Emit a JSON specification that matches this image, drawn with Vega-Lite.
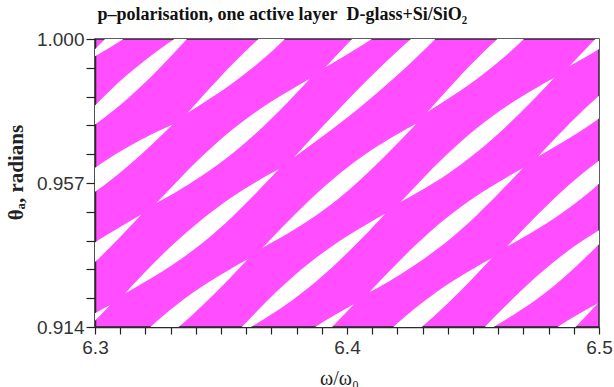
{
  "$schema": "https://vega.github.io/schema/vega-lite/v6.json",
  "width": 504,
  "height": 288,
  "autosize": {"type": "none"},
  "padding": {"left": 95, "top": 39, "right": 15, "bottom": 60},
  "background": "white",
  "view": {"fill": "#ff4dff", "stroke": "#2a2a2a", "strokeWidth": 1.5},
  "config": {"font": "Liberation Sans"},
  "data": {"values": [
    {"lens":1,"omega":6.2946,"lo":0.9926,"hi":0.9926},{"lens":1,"omega":6.3019,"lo":0.9957,"hi":0.9984},{"lens":1,"omega":6.3129,"lo":1.0008,"hi":1.0066},{"lens":1,"omega":6.3251,"lo":1.0075,"hi":1.0147},{"lens":1,"omega":6.3373,"lo":1.0156,"hi":1.0215},{"lens":1,"omega":6.3483,"lo":1.0239,"hi":1.0266},{"lens":1,"omega":6.3557,"lo":1.0297,"hi":1.0297},
    {"lens":2,"omega":6.2823,"lo":0.9657,"hi":0.9657},{"lens":2,"omega":6.2896,"lo":0.9692,"hi":0.9718},{"lens":2,"omega":6.3006,"lo":0.9748,"hi":0.9806},{"lens":2,"omega":6.3128,"lo":0.9821,"hi":0.9893},{"lens":2,"omega":6.3250,"lo":0.9908,"hi":0.9966},{"lens":2,"omega":6.3360,"lo":0.9996,"hi":1.0022},{"lens":2,"omega":6.3434,"lo":1.0057,"hi":1.0057},
    {"lens":3,"omega":6.3368,"lo":0.9780,"hi":0.9780},{"lens":3,"omega":6.3441,"lo":0.9815,"hi":0.9841},{"lens":3,"omega":6.3551,"lo":0.9871,"hi":0.9929},{"lens":3,"omega":6.3673,"lo":0.9944,"hi":1.0016},{"lens":3,"omega":6.3795,"lo":1.0031,"hi":1.0089},{"lens":3,"omega":6.3905,"lo":1.0119,"hi":1.0146},{"lens":3,"omega":6.3979,"lo":1.0180,"hi":1.0180},
    {"lens":4,"omega":6.2697,"lo":0.9416,"hi":0.9416},{"lens":4,"omega":6.2770,"lo":0.9442,"hi":0.9469},{"lens":4,"omega":6.2880,"lo":0.9486,"hi":0.9544},{"lens":4,"omega":6.3003,"lo":0.9545,"hi":0.9617},{"lens":4,"omega":6.3125,"lo":0.9617,"hi":0.9675},{"lens":4,"omega":6.3235,"lo":0.9692,"hi":0.9719},{"lens":4,"omega":6.3308,"lo":0.9745,"hi":0.9745},
    {"lens":5,"omega":6.3243,"lo":0.9510,"hi":0.9510},{"lens":5,"omega":6.3317,"lo":0.9541,"hi":0.9568},{"lens":5,"omega":6.3427,"lo":0.9593,"hi":0.9651},{"lens":5,"omega":6.3549,"lo":0.9660,"hi":0.9732},{"lens":5,"omega":6.3671,"lo":0.9741,"hi":0.9799},{"lens":5,"omega":6.3781,"lo":0.9824,"hi":0.9850},{"lens":5,"omega":6.3854,"lo":0.9882,"hi":0.9882},
    {"lens":6,"omega":6.3914,"lo":0.9916,"hi":0.9916},{"lens":6,"omega":6.3987,"lo":0.9948,"hi":0.9974},{"lens":6,"omega":6.4097,"lo":0.9999,"hi":1.0057},{"lens":6,"omega":6.4220,"lo":1.0066,"hi":1.0138},{"lens":6,"omega":6.4342,"lo":1.0147,"hi":1.0205},{"lens":6,"omega":6.4452,"lo":1.0230,"hi":1.0257},{"lens":6,"omega":6.4525,"lo":1.0288,"hi":1.0288},
    {"lens":7,"omega":6.2573,"lo":0.9104,"hi":0.9104},{"lens":7,"omega":6.2646,"lo":0.9135,"hi":0.9162},{"lens":7,"omega":6.2756,"lo":0.9187,"hi":0.9245},{"lens":7,"omega":6.2878,"lo":0.9254,"hi":0.9326},{"lens":7,"omega":6.3001,"lo":0.9335,"hi":0.9393},{"lens":7,"omega":6.3111,"lo":0.9418,"hi":0.9444},{"lens":7,"omega":6.3184,"lo":0.9476,"hi":0.9476},
    {"lens":8,"omega":6.3119,"lo":0.9240,"hi":0.9240},{"lens":8,"omega":6.3192,"lo":0.9272,"hi":0.9299},{"lens":8,"omega":6.3302,"lo":0.9323,"hi":0.9381},{"lens":8,"omega":6.3425,"lo":0.9390,"hi":0.9462},{"lens":8,"omega":6.3547,"lo":0.9471,"hi":0.9530},{"lens":8,"omega":6.3657,"lo":0.9554,"hi":0.9581},{"lens":8,"omega":6.3730,"lo":0.9612,"hi":0.9612},
    {"lens":9,"omega":6.3790,"lo":0.9647,"hi":0.9647},{"lens":9,"omega":6.3890,"lo":0.9702,"hi":0.9728},{"lens":9,"omega":6.4040,"lo":0.9789,"hi":0.9847},{"lens":9,"omega":6.4206,"lo":0.9896,"hi":0.9968},{"lens":9,"omega":6.4373,"lo":1.0017,"hi":1.0075},{"lens":9,"omega":6.4523,"lo":1.0135,"hi":1.0162},{"lens":9,"omega":6.4623,"lo":1.0217,"hi":1.0217},
    {"lens":10,"omega":6.2448,"lo":0.8834,"hi":0.8834},{"lens":10,"omega":6.2522,"lo":0.8866,"hi":0.8892},{"lens":10,"omega":6.2632,"lo":0.8917,"hi":0.8975},{"lens":10,"omega":6.2754,"lo":0.8984,"hi":0.9056},{"lens":10,"omega":6.2876,"lo":0.9065,"hi":0.9123},{"lens":10,"omega":6.2986,"lo":0.9148,"hi":0.9175},{"lens":10,"omega":6.3060,"lo":0.9206,"hi":0.9206},
    {"lens":11,"omega":6.2995,"lo":0.8971,"hi":0.8971},{"lens":11,"omega":6.3068,"lo":0.9002,"hi":0.9029},{"lens":11,"omega":6.3178,"lo":0.9053,"hi":0.9111},{"lens":11,"omega":6.3300,"lo":0.9120,"hi":0.9192},{"lens":11,"omega":6.3423,"lo":0.9202,"hi":0.9260},{"lens":11,"omega":6.3533,"lo":0.9284,"hi":0.9311},{"lens":11,"omega":6.3606,"lo":0.9342,"hi":0.9342},
    {"lens":12,"omega":6.3665,"lo":0.9377,"hi":0.9377},{"lens":12,"omega":6.3739,"lo":0.9408,"hi":0.9435},{"lens":12,"omega":6.3849,"lo":0.9459,"hi":0.9517},{"lens":12,"omega":6.3971,"lo":0.9526,"hi":0.9598},{"lens":12,"omega":6.4093,"lo":0.9608,"hi":0.9666},{"lens":12,"omega":6.4203,"lo":0.9690,"hi":0.9717},{"lens":12,"omega":6.4276,"lo":0.9748,"hi":0.9748},
    {"lens":13,"omega":6.4320,"lo":0.9783,"hi":0.9783},{"lens":13,"omega":6.4393,"lo":0.9818,"hi":0.9844},{"lens":13,"omega":6.4503,"lo":0.9874,"hi":0.9932},{"lens":13,"omega":6.4625,"lo":0.9947,"hi":1.0019},{"lens":13,"omega":6.4748,"lo":1.0034,"hi":1.0092},{"lens":13,"omega":6.4858,"lo":1.0122,"hi":1.0148},{"lens":13,"omega":6.4931,"lo":1.0183,"hi":1.0183},
    {"lens":14,"omega":6.3541,"lo":0.9107,"hi":0.9107},{"lens":14,"omega":6.3614,"lo":0.9138,"hi":0.9165},{"lens":14,"omega":6.3724,"lo":0.9189,"hi":0.9248},{"lens":14,"omega":6.3847,"lo":0.9257,"hi":0.9329},{"lens":14,"omega":6.3969,"lo":0.9338,"hi":0.9396},{"lens":14,"omega":6.4079,"lo":0.9420,"hi":0.9447},{"lens":14,"omega":6.4152,"lo":0.9478,"hi":0.9478},
    {"lens":15,"omega":6.4212,"lo":0.9513,"hi":0.9513},{"lens":15,"omega":6.4285,"lo":0.9544,"hi":0.9571},{"lens":15,"omega":6.4395,"lo":0.9595,"hi":0.9654},{"lens":15,"omega":6.4517,"lo":0.9663,"hi":0.9735},{"lens":15,"omega":6.4639,"lo":0.9744,"hi":0.9802},{"lens":15,"omega":6.4749,"lo":0.9826,"hi":0.9853},{"lens":15,"omega":6.4823,"lo":0.9884,"hi":0.9884},
    {"lens":16,"omega":6.4882,"lo":0.9919,"hi":0.9919},{"lens":16,"omega":6.4956,"lo":0.9950,"hi":0.9977},{"lens":16,"omega":6.5066,"lo":1.0002,"hi":1.0060},{"lens":16,"omega":6.5188,"lo":1.0069,"hi":1.0141},{"lens":16,"omega":6.5310,"lo":1.0150,"hi":1.0208},{"lens":16,"omega":6.5420,"lo":1.0233,"hi":1.0259},{"lens":16,"omega":6.5493,"lo":1.0291,"hi":1.0291},
    {"lens":17,"omega":6.3417,"lo":0.8837,"hi":0.8837},{"lens":17,"omega":6.3490,"lo":0.8868,"hi":0.8895},{"lens":17,"omega":6.3600,"lo":0.8920,"hi":0.8978},{"lens":17,"omega":6.3722,"lo":0.8987,"hi":0.9059},{"lens":17,"omega":6.3845,"lo":0.9068,"hi":0.9126},{"lens":17,"omega":6.3955,"lo":0.9151,"hi":0.9177},{"lens":17,"omega":6.4028,"lo":0.9209,"hi":0.9209},
    {"lens":18,"omega":6.4087,"lo":0.9243,"hi":0.9243},{"lens":18,"omega":6.4161,"lo":0.9274,"hi":0.9301},{"lens":18,"omega":6.4271,"lo":0.9326,"hi":0.9384},{"lens":18,"omega":6.4393,"lo":0.9393,"hi":0.9465},{"lens":18,"omega":6.4515,"lo":0.9474,"hi":0.9532},{"lens":18,"omega":6.4625,"lo":0.9557,"hi":0.9583},{"lens":18,"omega":6.4698,"lo":0.9615,"hi":0.9615},
    {"lens":19,"omega":6.4758,"lo":0.9649,"hi":0.9649},{"lens":19,"omega":6.4831,"lo":0.9681,"hi":0.9707},{"lens":19,"omega":6.4941,"lo":0.9732,"hi":0.9790},{"lens":19,"omega":6.5064,"lo":0.9799,"hi":0.9871},{"lens":19,"omega":6.5186,"lo":0.9880,"hi":0.9938},{"lens":19,"omega":6.5296,"lo":0.9963,"hi":0.9990},{"lens":19,"omega":6.5369,"lo":1.0021,"hi":1.0021},
    {"lens":20,"omega":6.3963,"lo":0.8974,"hi":0.8974},{"lens":20,"omega":6.4036,"lo":0.9005,"hi":0.9032},{"lens":20,"omega":6.4146,"lo":0.9056,"hi":0.9114},{"lens":20,"omega":6.4269,"lo":0.9123,"hi":0.9195},{"lens":20,"omega":6.4391,"lo":0.9204,"hi":0.9263},{"lens":20,"omega":6.4501,"lo":0.9287,"hi":0.9314},{"lens":20,"omega":6.4574,"lo":0.9345,"hi":0.9345},
    {"lens":21,"omega":6.4634,"lo":0.9380,"hi":0.9380},{"lens":21,"omega":6.4707,"lo":0.9411,"hi":0.9438},{"lens":21,"omega":6.4817,"lo":0.9462,"hi":0.9520},{"lens":21,"omega":6.4939,"lo":0.9529,"hi":0.9601},{"lens":21,"omega":6.5061,"lo":0.9610,"hi":0.9669},{"lens":21,"omega":6.5171,"lo":0.9693,"hi":0.9720},{"lens":21,"omega":6.5245,"lo":0.9751,"hi":0.9751},
    {"lens":22,"omega":6.4509,"lo":0.9110,"hi":0.9110},{"lens":22,"omega":6.4583,"lo":0.9141,"hi":0.9168},{"lens":22,"omega":6.4693,"lo":0.9192,"hi":0.9250},{"lens":22,"omega":6.4815,"lo":0.9259,"hi":0.9331},{"lens":22,"omega":6.4937,"lo":0.9341,"hi":0.9399},{"lens":22,"omega":6.5047,"lo":0.9423,"hi":0.9450},{"lens":22,"omega":6.5120,"lo":0.9481,"hi":0.9481},
    {"lens":23,"omega":6.4385,"lo":0.8840,"hi":0.8840},{"lens":23,"omega":6.4458,"lo":0.8871,"hi":0.8898},{"lens":23,"omega":6.4568,"lo":0.8922,"hi":0.8981},{"lens":23,"omega":6.4691,"lo":0.8990,"hi":0.9062},{"lens":23,"omega":6.4813,"lo":0.9071,"hi":0.9129},{"lens":23,"omega":6.4923,"lo":0.9153,"hi":0.9180},{"lens":23,"omega":6.4996,"lo":0.9211,"hi":0.9211}
  ]},
  "layer": [
    {
      "mark": {"type": "area", "fill": "white", "stroke": null, "interpolate": "monotone", "clip": true},
      "encoding": {
        "x": {
          "field": "omega", "type": "quantitative",
          "scale": {"domain": [6.3, 6.5], "nice": false, "zero": false},
          "axis": {
            "orient": "bottom",
            "title": "ω/ω₀",
            "values": [6.3,6.31,6.32,6.33,6.34,6.35,6.36,6.37,6.38,6.39,6.4,6.41,6.42,6.43,6.44,6.45,6.46,6.47,6.48,6.49,6.5],
            "labelExpr": "(datum.value == 6.3 || datum.value == 6.4 || datum.value == 6.5) ? format(datum.value, '.1f') : ''",
            "grid": false, "labelOverlap": false, "labelFlush": false, "labelBound": false,
            "tickSize": 7, "tickWidth": 1.2, "tickColor": "#222",
            "domainColor": "#2a2a2a", "domainWidth": 1.5,
            "labelFont": "Liberation Sans", "labelFontSize": 19, "labelColor": "#333", "labelPadding": 4,
            "titleFont": "Liberation Serif", "titleFontSize": 20, "titleFontWeight": "normal", "titleColor": "#222",
            "titleX": 244, "titleY": 51, "titleBaseline": "middle"
          }
        },
        "y": {
          "field": "lo", "type": "quantitative",
          "scale": {"domain": [0.914, 1.0], "nice": false, "zero": false},
          "axis": {
            "title": "θₐ, radians",
            "values": [0.914,0.9226,0.9312,0.9398,0.9484,0.957,0.9656,0.9742,0.9828,0.9914,1],
            "labelExpr": "(datum.value == 1 || datum.value == 0.957 || datum.value == 0.914) ? format(datum.value, '.3f') : ''",
            "grid": false, "labelOverlap": false, "labelFlush": false, "labelBound": false,
            "tickSize": 9, "tickWidth": 1.2, "tickColor": "#222",
            "domainColor": "#2a2a2a", "domainWidth": 1.5,
            "labelFont": "Liberation Sans", "labelFontSize": 19, "labelColor": "#333", "labelPadding": 2,
            "titleFont": "Liberation Serif", "titleFontSize": 21, "titleFontWeight": "bold", "titleColor": "#222",
            "titleX": -79, "titleY": 133, "titleAngle": -90, "titleAlign": "center", "titleBaseline": "middle"
          }
        },
        "y2": {"field": "hi"},
        "detail": {"field": "lens", "type": "nominal"}
      }
    },
    {
      "mark": {"type": "point", "opacity": 0, "clip": true},
      "encoding": {
        "x": {
          "field": "omega", "type": "quantitative",
          "axis": {
            "orient": "top",
            "title": "p–polarisation, one active layer\u00a0\u00a0D-glass+Si/SiO₂",
            "domain": false, "ticks": false, "labels": false, "grid": false,
            "titleFont": "Liberation Serif", "titleFontSize": 18, "titleFontWeight": "bold", "titleColor": "#111",
            "titleX": 2, "titleY": -20, "titleAlign": "left", "titleBaseline": "alphabetic", "titleAngle": 0
          }
        }
      }
    }
  ],
  "resolve": {"axis": {"x": "independent"}}
}
